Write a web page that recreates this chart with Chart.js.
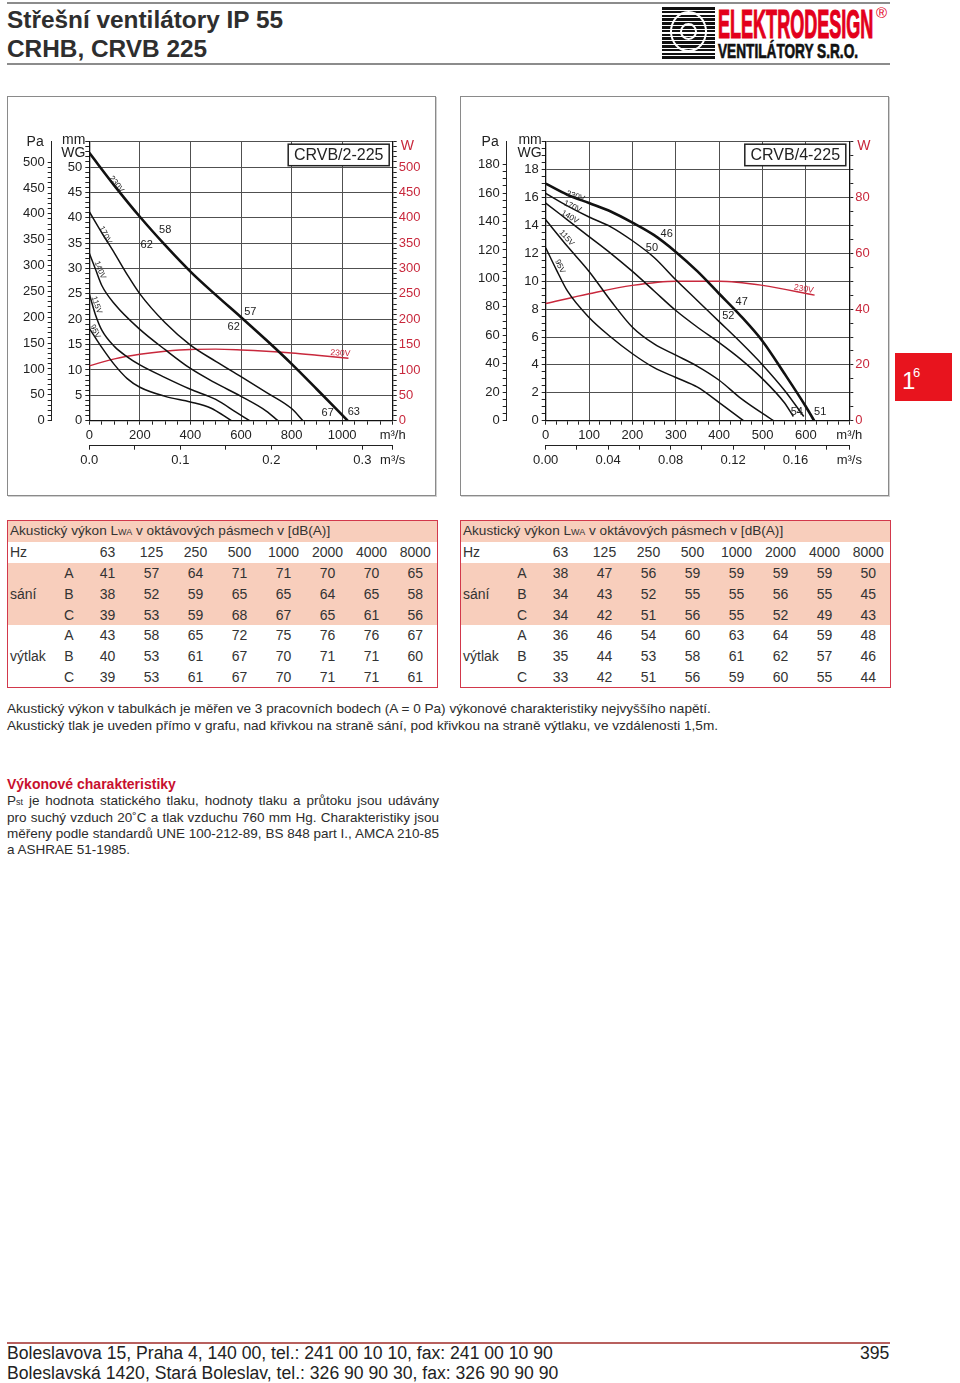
<!DOCTYPE html>
<html lang="cs">
<head>
<meta charset="utf-8">
<title>Střešní ventilátory IP 55 – CRHB, CRVB 225</title>
<script src="https://cdn.jsdelivr.net/npm/chart.js@4.4.1/dist/chart.umd.min.js"></script>
<style>
  html, body { margin: 0; padding: 0; }
  body { width: 960px; height: 1383px; position: relative; overflow: hidden; background: #fff;
         font-family: "Liberation Sans", Arial, Helvetica, sans-serif; color: #2b2b2b; }
  .abs { position: absolute; }
  .rule { position: absolute; left: 7px; width: 883px; height: 2px; background: #8c8c8c; }
  .title { left: 7px; top: 5px; font-weight: bold; font-size: 24.4px; line-height: 29px; color: #2e2e2e; }
  .stripes { left: 662px; top: 7px; width: 53px; height: 53px;
             background: repeating-linear-gradient(to bottom, #111 0 2.6px, #fff 2.6px 3.8px); overflow: hidden; }
  .stripes .ring { position: absolute; left: 8px; top: 4px; width: 37px; height: 41px; border: 2px solid #fff; border-radius: 50%; box-sizing: border-box; }
  .stripes .ring2 { position: absolute; left: 18px; top: 16px; width: 17px; height: 17px; border: 2px solid #fff; border-radius: 50%; box-sizing: border-box; }
  .brand { left: 718px; top: 4px; font-weight: bold; font-size: 41px; line-height: 41px; color: #e3001b;
           transform: scaleX(0.44); transform-origin: 0 0; white-space: nowrap; -webkit-text-stroke: 1.2px #e3001b; }
  .brandsub { left: 718px; top: 40px; font-weight: bold; font-size: 21px; line-height: 21px; color: #111;
              transform: scaleX(0.65); transform-origin: 0 0; white-space: nowrap; -webkit-text-stroke: 0.7px #111; }
  .reg { left: 876px; top: 4px; font-size: 15px; color: #e3001b; }
  .panel { position: absolute; top: 96px; width: 427px; height: 398px; border: 1px solid #8a8a8a;
           box-shadow: 1px 1px 0 #d0d0d0; }
  .panel canvas { display: block; }
  .badge { left: 895px; top: 353px; width: 57px; height: 48px; background: #e8141e; color: #fff; }
  .badge .b1 { position: absolute; left: 7px; top: 16px; font-size: 24px; line-height: 24px; }
  .badge .b2 { position: absolute; left: 18px; top: 13px; font-size: 13px; line-height: 13px; }
  table.snd { position: absolute; top: 520px; width: 430px; border-collapse: collapse; table-layout: fixed;
              border: 1.5px solid #d2384b; font-size: 14px; color: #333; }
  table.snd td { height: 20.8px; padding: 0; text-align: center; line-height: 18px; white-space: nowrap; }
  table.snd td.l { text-align: left; padding-left: 2px; }
  table.snd td.h { font-size: 13.6px; }
  table.snd tr.pink td { background: #f8cebc; }
  table.snd small { font-size: 9px; }
  .note { left: 7px; font-size: 13.6px; line-height: 17px; color: #2b2b2b; white-space: nowrap; }
  .red { color: #c8102e; font-weight: bold; font-size: 14px; }
  .para { font-size: 13.5px; }
  .just { width: 432px; text-align: justify; text-align-last: justify; }
  .foot { left: 7px; font-size: 17.6px; line-height: 20px; color: #222; white-space: nowrap; }
</style>
</head>
<body>

<div class="rule" style="top:2px"></div>
<div class="abs title">Střešní ventilátory IP 55<br>CRHB, CRVB 225</div>
<div class="abs stripes"><div class="ring"></div><div class="ring2"></div></div>
<div class="abs brand">ELEKTRODESIGN</div>
<div class="abs brandsub">VENTILÁTORY S.R.O.</div>
<div class="abs reg">®</div>
<div class="rule" style="top:63px"></div>

<div class="panel" style="left:7px"><canvas id="chart1" width="427" height="398"></canvas></div>
<div class="panel" style="left:460px"><canvas id="chart2" width="427" height="398"></canvas></div>

<div class="abs badge"><span class="b1">1</span><span class="b2">6</span></div>

<table class="snd" id="table1" style="left:7px"></table>
<table class="snd" id="table2" style="left:460px"></table>

<div class="abs note" style="top:700px">Akustický výkon v tabulkách je měřen ve 3 pracovních bodech (A = 0 Pa) výkonové charakteristiky nejvyššího napětí.</div>
<div class="abs note" style="top:717px">Akustický tlak je uveden přímo v grafu, nad křivkou na straně sání, pod křivkou na straně výtlaku, ve vzdálenosti 1,5m.</div>

<div class="abs note red" style="top:776px">Výkonové charakteristiky</div>
<div class="abs note para just" style="top:792px">P<small style="font-size:9px">st</small> je hodnota statického tlaku, hodnoty tlaku a průtoku jsou udávány</div>
<div class="abs note para just" style="top:809px">pro suchý vzduch 20˚C a tlak vzduchu 760 mm Hg. Charakteristiky jsou</div>
<div class="abs note para just" style="top:825px">měřeny podle standardů UNE 100-212-89, BS 848 part I., AMCA 210-85</div>
<div class="abs note para" style="top:841px">a ASHRAE 51-1985.</div>

<div class="abs" style="left:7px;top:1342px;width:883px;height:1.5px;background:#b8605e"></div>
<div class="abs foot" style="top:1343px">Boleslavova 15, Praha 4, 140 00, tel.: 241 00 10 10, fax: 241 00 10 90</div>
<div class="abs foot" style="top:1363px">Boleslavská 1420, Stará Boleslav, tel.: 326 90 90 30, fax: 326 90 90 90</div>
<div class="abs foot" style="top:1343px;left:860px">395</div>

<script>
// ---- CRVB/2-225 : průtok [m3/h] -> statický tlak [mm WG]
const c1_230V = [[0, 52.8], [100, 46.3], [200, 40.2], [300, 34.6], [400, 29.4], [500, 24.8], [600, 20.4], [700, 15.9], [800, 11.2], [900, 6.2], [1022, 0]];
const c1_170V = [[0, 41.2], [50, 37], [100, 33], [150, 28.8], [200, 25], [300, 19.3], [400, 14.9], [500, 11.7], [600, 8.7], [700, 5.6], [800, 2.4], [845, 0]];
const c1_140V = [[0, 33], [25, 29.8], [50, 26.6], [100, 23], [200, 18], [300, 14], [400, 10.3], [500, 7.4], [600, 4.8], [700, 1.9], [746, 0]];
const c1_115V = [[0, 25], [25, 20.8], [50, 17.8], [100, 14.6], [150, 12.6], [200, 11], [300, 8.5], [400, 6.2], [500, 4.2], [580, 1.7], [634, 0]];
const c1_95V = [[0, 18.2], [50, 14.4], [100, 11], [150, 8.3], [200, 6.6], [300, 4.8], [400, 3.7], [480, 2.5], [562, 0]];
// příkon [W] pro 230V
const c1_power = [[0, 108], [100, 122], [200, 131], [300, 137], [400, 140.5], [500, 141], [600, 139.5], [700, 137], [800, 133.5], [900, 129], [1025, 123]];
// popisky u křivek (text, průtok, hodnota, natočení)
const c1_volts = [['230V', 108, 46.6, 52], ['170V', 63, 36.6, 62], ['140V', 42, 29.7, 68], ['115V', 29, 22.8, 70], ['95V', 23, 17.6, 64]];
const c1_db = [['58', 300, 37.6], ['62', 227, 34.7], ['57', 637, 21.5], ['62', 571, 18.5], ['67', 943, 1.45], ['63', 1046, 1.8]];
const c1_powerNote = ['230V', 993, 133, 4];

// ---- CRVB/4-225
const c2_230V = [[0, 17], [50, 16.2], [100, 15.6], [150, 15], [200, 14.2], [250, 13.3], [300, 12.1], [350, 10.7], [400, 9.1], [450, 7.5], [500, 5.7], [550, 3.4], [600, 1.0], [619, 0]];
const c2_170V = [[0, 16.3], [50, 15.4], [100, 14.6], [150, 13.9], [200, 12.9], [250, 11.7], [300, 10.1], [350, 8.6], [400, 7.1], [450, 5.6], [500, 4], [550, 2.2], [595, 0.3]];
const c2_140V = [[0, 15.6], [50, 14.4], [100, 13.2], [150, 12], [200, 10.7], [250, 9.3], [300, 7.9], [350, 6.7], [400, 5.6], [450, 4.4], [500, 3.0], [550, 1.3], [571, 0.3]];
const c2_115V = [[0, 14.4], [50, 12.5], [100, 10.7], [150, 8.6], [200, 6.7], [250, 5.5], [300, 4.7], [350, 3.9], [400, 2.9], [450, 1.6], [525, 0]];
const c2_95V = [[0, 12.4], [25, 10.8], [50, 9.3], [100, 7.4], [150, 6], [200, 4.8], [250, 3.8], [300, 3.1], [350, 2.4], [400, 1.3], [456, 0]];
const c2_power = [[0, 42], [100, 45.5], [200, 48.5], [300, 50], [400, 50], [500, 48.5], [620, 45]];
const c2_volts = [['230V', 69, 16.1, 18], ['170V', 62, 15.35, 24], ['140V', 56, 14.6, 30], ['115V', 48.5, 13.1, 48], ['95V', 33, 11.05, 64]];
const c2_db = [['46', 279, 13.4], ['50', 245, 12.4], ['47', 452, 8.5], ['52', 421, 7.5], ['54', 579, 0.6], ['51', 633, 0.65]];
const c2_powerNote = ['230V', 595, 47.2, 10];

// ---- tabulky akustického výkonu
const octaveHz = [63, 125, 250, 500, 1000, 2000, 4000, 8000];
const t1_sani = [[41, 57, 64, 71, 71, 70, 70, 65], [38, 52, 59, 65, 65, 64, 65, 58], [39, 53, 59, 68, 67, 65, 61, 56]];
const t1_vytlak = [[43, 58, 65, 72, 75, 76, 76, 67], [40, 53, 61, 67, 70, 71, 71, 60], [39, 53, 61, 67, 70, 71, 71, 61]];
const t2_sani = [[38, 47, 56, 59, 59, 59, 59, 50], [34, 43, 52, 55, 55, 56, 55, 45], [34, 42, 51, 56, 55, 52, 49, 43]];
const t2_vytlak = [[36, 46, 54, 60, 63, 64, 59, 48], [35, 44, 53, 58, 61, 62, 57, 46], [33, 42, 51, 56, 59, 60, 55, 44]];

const GRID = '#505050';
const INK = '#222';
const RED = '#c8283c';
const FONT = '"Liberation Sans", Arial, Helvetica, sans-serif';
const PA_PER_MM = 9.80665;

function range(from, to, step) {
    const out = [];
    for (let i = 0; from + i * step <= to + 1e-9; i++) out.push(+(from + i * step).toFixed(6));
    return out;
}

function onStep(v, step) {
    const r = v / step;
    return Math.abs(r - Math.round(r)) < 1e-6;
}

// popisky, rámeček s typem a názvy os
const chartDecor = {
    id: 'chartDecor',
    afterDatasetsDraw(chart, args, o) {
        const ctx = chart.ctx;
        const area = chart.chartArea;
        const s = chart.scales;
        ctx.save();
        ctx.textAlign = 'center';
        ctx.textBaseline = 'middle';

        o.volts.forEach(v => {
            ctx.save();
            ctx.translate(s.x.getPixelForValue(v[1]), s.y.getPixelForValue(v[2]));
            ctx.rotate(v[3] * Math.PI / 180);
            ctx.font = '8px ' + FONT;
            ctx.fillStyle = INK;
            ctx.fillText(v[0], 0, 0);
            ctx.restore();
        });

        const pn = o.powerNote;
        ctx.save();
        ctx.translate(s.x.getPixelForValue(pn[1]), s.yW.getPixelForValue(pn[2]));
        ctx.rotate(pn[3] * Math.PI / 180);
        ctx.font = '8.5px ' + FONT;
        ctx.fillStyle = RED;
        ctx.fillText(pn[0], 0, 0);
        ctx.restore();

        ctx.font = '11px ' + FONT;
        ctx.fillStyle = INK;
        o.db.forEach(d => ctx.fillText(d[0], s.x.getPixelForValue(d[1]), s.y.getPixelForValue(d[2])));

        // typ ventilátoru
        ctx.font = '16px ' + FONT;
        const bw = 101, bh = 21.5;
        const bx = area.right - 3.5 - bw, by = area.top + 2.5;
        ctx.fillStyle = '#fff';
        ctx.fillRect(bx, by, bw, bh);
        ctx.strokeStyle = '#222';
        ctx.lineWidth = 1.5;
        ctx.strokeRect(bx, by, bw, bh);
        ctx.fillStyle = INK;
        ctx.fillText(o.model, bx + bw / 2, by + bh / 2 + 1);

        // názvy os
        ctx.font = '14px ' + FONT;
        ctx.textAlign = 'right';
        ctx.fillText('Pa', s.yPa.right - 8, area.top);
        ctx.fillText('mm', s.y.right - 4, area.top - 2);
        ctx.fillText('WG', s.y.right - 4, area.top + 11);
        ctx.textAlign = 'left';
        ctx.fillStyle = RED;
        ctx.fillText('W', s.yW.left + 8, area.top + 4.5);
        ctx.restore();
    }
};

function makeChart(c) {
    const tickFont = { family: FONT, size: 13 };
    const curves = c.curves.map((pts, i) => ({
        data: pts.map(p => ({ x: p[0], y: p[1] })),
        borderColor: '#111',
        borderWidth: i === 0 ? 2.6 : 1.5,
        pointRadius: 0,
        cubicInterpolationMode: 'monotone',
        xAxisID: 'x',
        yAxisID: 'y'
    }));
    curves.push({
        data: c.power.map(p => ({ x: p[0], y: p[1] })),
        borderColor: RED,
        borderWidth: 1.4,
        pointRadius: 0,
        cubicInterpolationMode: 'monotone',
        xAxisID: 'x',
        yAxisID: 'yW'
    });
    const sMax = c.qMax / 3600;

    return new Chart(document.getElementById(c.canvas), {
        type: 'line',
        data: { datasets: curves },
        options: {
            responsive: false,
            animation: false,
            layout: { padding: { left: 0, right: 0, top: 44.7, bottom: 19.3 } },
            plugins: {
                legend: { display: false },
                tooltip: { enabled: false },
                chartDecor: { model: c.model, volts: c.volts, db: c.db, powerNote: c.powerNote }
            },
            scales: {
                x: {
                    type: 'linear', position: 'bottom', min: 0, max: c.qMax, weight: 0,
                    afterBuildTicks: sc => { sc.ticks = range(0, c.qMax, c.qMinor).map(v => ({ value: v })); },
                    afterFit: sc => { sc.height = 25; },
                    ticks: {
                        autoSkip: false, maxRotation: 0, minRotation: 0, padding: 3, color: INK, font: tickFont,
                        callback: v => v === c.qMax ? 'm³/h' : (onStep(v, c.qMajor) ? String(v) : '')
                    },
                    grid: {
                        color: ctx => onStep(ctx.tick.value, c.qMajor) ? GRID : 'rgba(0,0,0,0)',
                        tickColor: INK, tickLength: 4, lineWidth: 1
                    },
                    border: { color: '#111', width: 1.3 }
                },
                x2: {
                    type: 'linear', position: 'bottom', min: 0, max: sMax, weight: 1,
                    afterBuildTicks: sc => { sc.ticks = range(0, sMax, c.sMinor).concat([sMax]).map(v => ({ value: v })); },
                    afterFit: sc => { sc.height = 30; },
                    ticks: {
                        autoSkip: false, maxRotation: 0, minRotation: 0, padding: 3, color: INK, font: tickFont,
                        callback: (v, i, all) => i === all.length - 1 ? 'm³/s' : (onStep(v, c.sMajor) ? v.toFixed(c.sDigits) : '')
                    },
                    grid: { drawOnChartArea: false, color: INK, tickLength: 4 },
                    border: { color: INK, width: 1 }
                },
                y: {
                    type: 'linear', position: 'left', min: 0, max: c.mmMax, weight: 0,
                    afterBuildTicks: sc => { sc.ticks = range(0, c.mmMax, c.mmMinor).map(v => ({ value: v })); },
                    afterFit: sc => { sc.width = c.leftMm; },
                    ticks: {
                        autoSkip: false, padding: 3, color: INK, font: tickFont,
                        callback: v => onStep(v, c.mmMajor) && v <= c.mmLabelMax ? String(v) : ''
                    },
                    grid: {
                        color: ctx => onStep(ctx.tick.value, c.mmMajor) ? GRID : 'rgba(0,0,0,0)',
                        tickColor: INK, tickLength: 4, lineWidth: 1
                    },
                    border: { color: '#111', width: 1.3 }
                },
                yPa: {
                    type: 'linear', position: 'left', min: 0, max: c.mmMax * PA_PER_MM, weight: 1,
                    afterBuildTicks: sc => { sc.ticks = range(0, c.paLabelMax, c.paMinor).map(v => ({ value: v })); },
                    afterFit: sc => { sc.width = c.leftPa; },
                    ticks: {
                        autoSkip: false, padding: 3, color: INK, font: tickFont,
                        callback: v => onStep(v, c.paMajor) ? String(v) : ''
                    },
                    grid: { drawOnChartArea: false, color: INK, tickLength: 4 },
                    border: { color: INK, width: 1 }
                },
                yW: {
                    type: 'linear', position: 'right', min: 0, max: c.wMax,
                    afterBuildTicks: sc => { sc.ticks = range(0, c.wMax, c.wMinor).map(v => ({ value: v })); },
                    afterFit: sc => { sc.width = c.rightW; },
                    ticks: {
                        autoSkip: false, padding: 2, color: RED, font: tickFont,
                        callback: v => onStep(v, c.wMajor) && v <= c.wLabelMax ? String(v) : ''
                    },
                    grid: { drawOnChartArea: false, color: INK, tickLength: 4 },
                    border: { color: '#111', width: 1.3 }
                }
            }
        },
        plugins: [chartDecor]
    });
}

makeChart({
    canvas: 'chart1', model: 'CRVB/2-225',
    curves: [c1_230V, c1_170V, c1_140V, c1_115V, c1_95V], power: c1_power,
    volts: c1_volts, db: c1_db, powerNote: c1_powerNote,
    qMax: 1200, qMajor: 200, qMinor: 50,
    sMajor: 0.1, sMinor: 0.05, sDigits: 1,
    mmMax: 55, mmMajor: 5, mmMinor: 1, mmLabelMax: 50,
    paMajor: 50, paMinor: 10, paLabelMax: 500,
    wMax: 550, wMajor: 50, wMinor: 10, wLabelMax: 500,
    leftPa: 43.7, leftMm: 37.6, rightW: 42.3
});

makeChart({
    canvas: 'chart2', model: 'CRVB/4-225',
    curves: [c2_230V, c2_170V, c2_140V, c2_115V, c2_95V], power: c2_power,
    volts: c2_volts, db: c2_db, powerNote: c2_powerNote,
    qMax: 700, qMajor: 100, qMinor: 25,
    sMajor: 0.04, sMinor: 0.02, sDigits: 2,
    mmMax: 20, mmMajor: 2, mmMinor: 0.5, mmLabelMax: 18,
    paMajor: 20, paMinor: 5, paLabelMax: 180,
    wMax: 100, wMajor: 20, wMinor: 5, wLabelMax: 80,
    leftPa: 45.7, leftMm: 39, rightW: 38.7
});

// tabulky akustického výkonu
function fillTable(id, sani, vytlak) {
    const row = (cls, cells) => '<tr' + (cls ? ' class="' + cls + '"' : '') + '>' + cells + '</tr>';
    let html = '<colgroup><col style="width:45px"><col style="width:33px">' + '<col style="width:44px">'.repeat(8) + '</colgroup>';
    html += row('pink', '<td class="l h" colspan="10">Akustický výkon L<small>WA</small> v oktávových pásmech v [dB(A)]</td>');
    html += row('', '<td class="l">Hz</td><td></td>' + octaveHz.map(h => '<td>' + h + '</td>').join(''));
    [['sání', sani, 'pink'], ['výtlak', vytlak, '']].forEach(([name, rows, cls]) => {
        rows.forEach((vals, i) => {
            const head = i === 0 ? '<td class="l" rowspan="3">' + name + '</td>' : '';
            html += row(cls, head + '<td>' + 'ABC'[i] + '</td>' + vals.map(v => '<td>' + v + '</td>').join(''));
        });
    });
    document.getElementById(id).innerHTML = html;
}

fillTable('table1', t1_sani, t1_vytlak);
fillTable('table2', t2_sani, t2_vytlak);
</script>
</body>
</html>
